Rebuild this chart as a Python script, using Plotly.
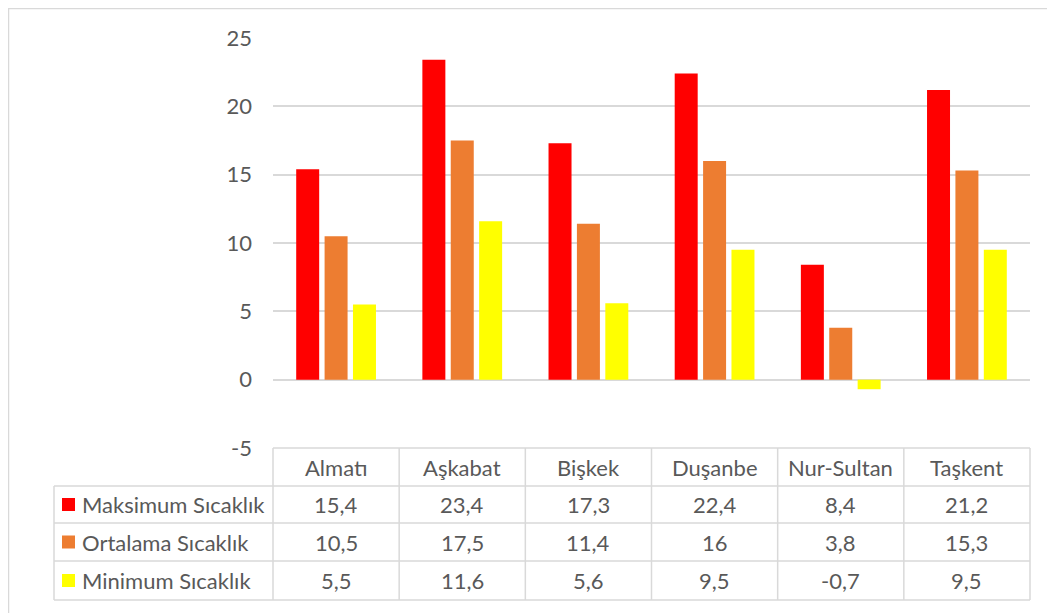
import plotly.graph_objects as go

categories = ["Almatı", "Aşkabat", "Bişkek", "Duşanbe", "Nur-Sultan", "Taşkent"]
series_names = ["Maksimum Sıcaklık", "Ortalama Sıcaklık", "Minimum Sıcaklık"]
maks = [15.4, 23.4, 17.3, 22.4, 8.4, 21.2]
ort = [10.5, 17.5, 11.4, 16.0, 3.8, 15.3]
mini = [5.5, 11.6, 5.6, 9.5, -0.7, 9.5]
colors = ["#FF0000", "#ED7D31", "#FFFF00"]
y_ticks = [-5, 0, 5, 10, 15, 20, 25]

OFF = 8  # page body margin
W, H = 1055 - OFF, 613 - OFF
L, R, T, B = 273, 1030, 38, 448  # plot area in page px
FONT = "Lato"
FS = 22
GRID = "#D9D9D9"
TXT = "#595959"

def px_x(px):
    return (px - L) / (R - L)

def px_y(py):
    return (B - py) / (B - T)

fig = go.Figure()
for name, vals, c in zip(series_names, [maks, ort, mini], colors):
    fig.add_trace(go.Bar(x=categories, y=vals, name=name, marker=dict(color=c, line=dict(width=0)),
                         showlegend=False))

shapes = []
annotations = []
n = len(categories)
row_lines = [448, 486, 523, 561, 600]
# outer chart border
shapes.append(dict(type="rect", xref="paper", yref="paper", x0=px_x(8.5), x1=px_x(1070),
                   y0=px_y(630), y1=px_y(8.5), line=dict(color=GRID, width=1.5), layer="below"))
# horizontal table lines
for i, py in enumerate(row_lines):
    x0 = px_x(L) if i == 0 else px_x(54)
    shapes.append(dict(type="line", xref="paper", yref="paper", x0=x0, x1=1, y0=px_y(py), y1=px_y(py),
                       line=dict(color=GRID, width=1.5)))
# vertical lines
shapes.append(dict(type="line", xref="paper", yref="paper", x0=px_x(54), x1=px_x(54),
                   y0=px_y(486), y1=px_y(600), line=dict(color=GRID, width=1.5)))
for k in range(n + 1):
    xk = k / n
    shapes.append(dict(type="line", xref="paper", yref="paper", x0=xk, x1=xk,
                       y0=px_y(448), y1=px_y(600), line=dict(color=GRID, width=1.5)))

def fmt(v):
    return f"{v:g}".replace(".", ",")

# header
for i, cat in enumerate(categories):
    annotations.append(dict(xref="paper", yref="paper", x=(i + 0.5) / n, y=px_y(467), text=cat,
                            showarrow=False, font=dict(family=FONT, size=FS, color=TXT),
                            xanchor="center", yanchor="middle"))
row_centers = [504.5, 542, 580.5]
for r, (name, vals, c) in enumerate(zip(series_names, [maks, ort, mini], colors)):
    yc = px_y(row_centers[r])
    shapes.append(dict(type="rect", xref="paper", yref="paper", x0=px_x(62), x1=px_x(75),
                       y0=yc - 6.5 / (B - T), y1=yc + 6.5 / (B - T), fillcolor=c, line=dict(width=0)))
    annotations.append(dict(xref="paper", yref="paper", x=px_x(80), y=yc, text=name, showarrow=False,
                            font=dict(family=FONT, size=FS, color=TXT), xanchor="left", yanchor="middle"))
    for i, v in enumerate(vals):
        annotations.append(dict(xref="paper", yref="paper", x=(i + 0.5) / n, y=yc, text=fmt(v),
                                showarrow=False, font=dict(family=FONT, size=FS, color=TXT),
                                xanchor="center", yanchor="middle"))

fig.update_layout(
    width=W, height=H,
    margin=dict(l=L - OFF, r=W - (R - OFF), t=T - OFF, b=H - (B - OFF), pad=0),
    paper_bgcolor="white", plot_bgcolor="white",
    barmode="group", bargap=0.325, bargroupgap=0.19,
    shapes=shapes, annotations=annotations,
    xaxis=dict(showticklabels=False, showgrid=False, showline=False, zeroline=False,
               range=[-0.5, n - 0.5]),
    yaxis=dict(range=[-5, 25], tickvals=y_ticks, ticktext=[str(t) for t in y_ticks],
               showgrid=True, gridcolor=GRID, gridwidth=1.5,
               zeroline=True, zerolinecolor=GRID, zerolinewidth=1.5, showline=False,
               tickfont=dict(family=FONT, size=FS, color=TXT), ticklabelstandoff=20),
)

fig.write_html("out.html")
